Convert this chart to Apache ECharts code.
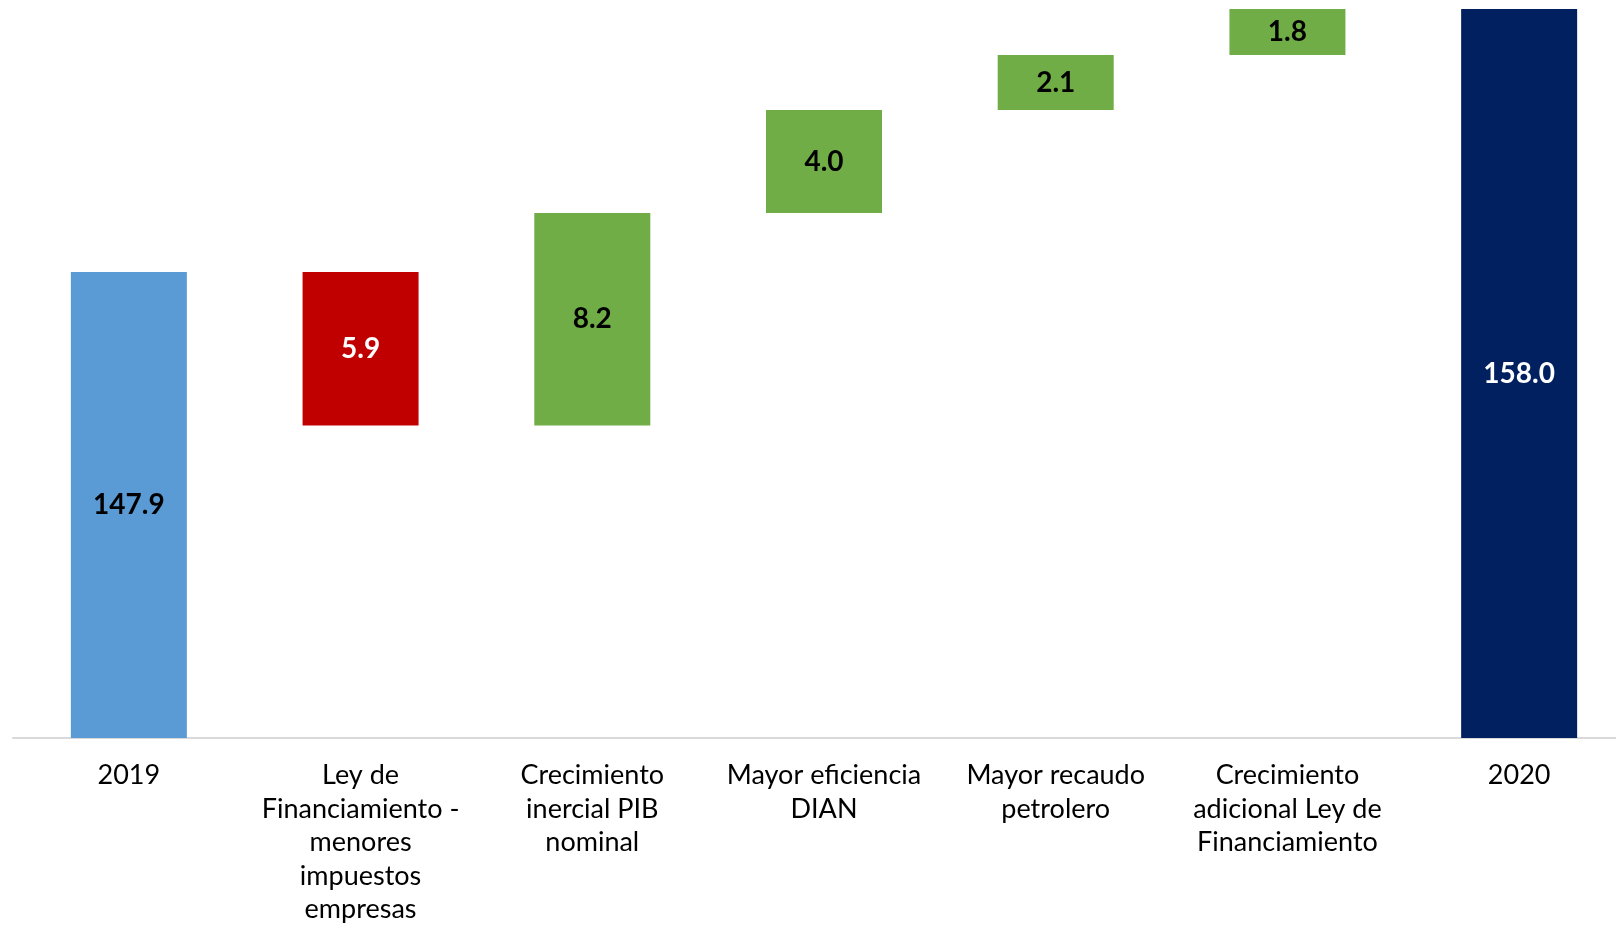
<!DOCTYPE html>
<html>
<head>
<meta charset="utf-8">
<script src="https://cdn.jsdelivr.net/npm/echarts@6/dist/echarts.min.js"></script>
<style>
  html, body { margin: 0; padding: 0; background: #fff; overflow: hidden; }
  /* the plot runs a bit past the right edge of the window, as in the original */
  #main { width: 1640px; height: 927px; }
</style>
</head>
<body>
<div id="main"></div>
<script>
// categories and values (labels show them rounded to 1 decimal)
const categories = [
  '2019',
  'Ley de\nFinanciamiento -\nmenores\nimpuestos\nempresas',
  'Crecimiento\ninercial PIB\nnominal',
  'Mayor eficiencia\nDIAN',
  'Mayor recaudo\npetrolero',
  'Crecimiento\nadicional Ley de\nFinanciamiento',
  '2020'
];
const changes = [147.9, -5.9, 8.16, 3.96, 2.11, 1.77, 158.0];
const colors = ['#5B9BD5', '#C00000', '#70AD47', '#70AD47', '#70AD47', '#70AD47', '#002060'];
const labelColors = ['#000', '#fff', '#000', '#000', '#000', '#000', '#fff'];

// waterfall: invisible base + visible step
const baseVals = [];
const stepVals = [];
let running = 0;
changes.forEach((v, i) => {
  if (i === 0 || i === changes.length - 1) {
    baseVals.push(0);
    stepVals.push(v);
    running = v;
  } else if (v >= 0) {
    baseVals.push(running);
    stepVals.push(v);
    running += v;
  } else {
    running += v;
    baseVals.push(running);
    stepVals.push(-v);
  }
});

const chart = echarts.init(document.getElementById('main'));
chart.setOption({
  animation: false,
  grid: { left: 13, width: 1622, top: 9, bottom: 189 },
  xAxis: {
    type: 'category',
    data: categories,
    axisLine: { lineStyle: { color: '#D9D9D9', width: 2 } },
    axisTick: { show: false },
    axisLabel: {
      interval: 0,
      margin: 21,
      color: '#000',
      fontFamily: 'Lato',
      fontSize: 27,
      lineHeight: 33.5
    }
  },
  yAxis: {
    type: 'value',
    min: 130,
    max: 158,
    show: false,
    splitLine: { show: false }
  },
  series: [
    {
      type: 'bar',
      stack: 'w',
      barWidth: 116,
      itemStyle: { color: 'transparent' },
      data: baseVals,
      silent: true
    },
    {
      type: 'bar',
      stack: 'w',
      barWidth: 116,
      data: stepVals.map((v, i) => ({
        value: v,
        itemStyle: { color: colors[i] },
        label: { color: labelColors[i] }
      })),
      label: {
        show: true,
        position: 'inside',
        fontFamily: 'Lato',
        fontWeight: 'bold',
        fontSize: 28,
        formatter: p => Math.abs(changes[p.dataIndex]).toFixed(1)
      }
    }
  ]
});
</script>
</body>
</html>
